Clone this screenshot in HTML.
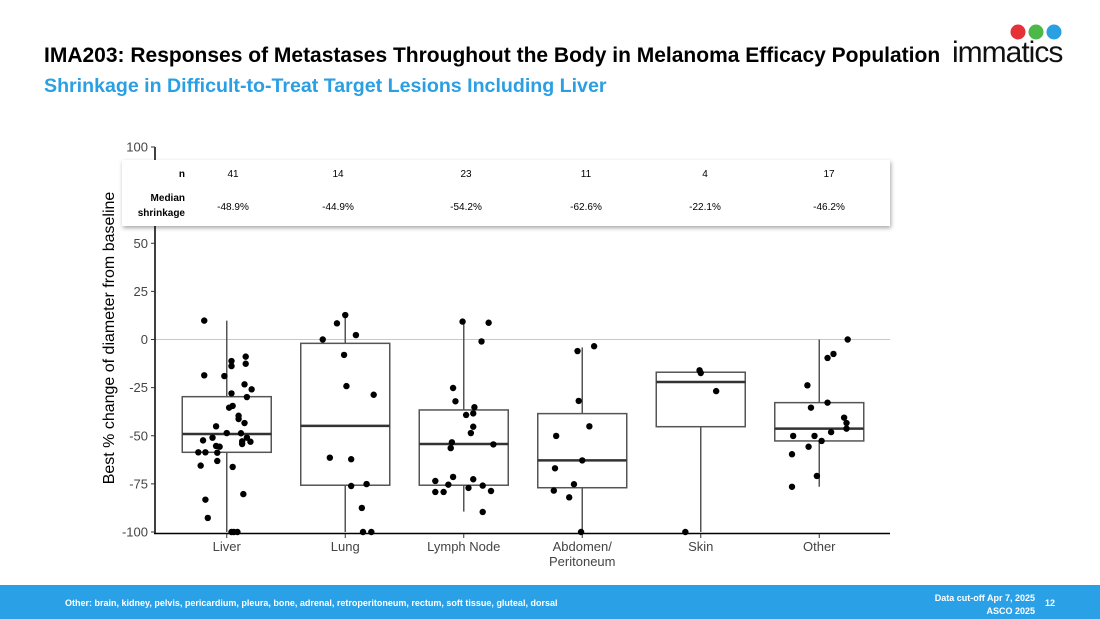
<!DOCTYPE html>
<html><head><meta charset="utf-8"><style>
body{margin:0;width:1100px;height:619px;overflow:hidden;background:#fff;font-family:"Liberation Sans",sans-serif;position:relative}
.t1{position:absolute;left:44px;top:44px;font-size:21px;font-weight:bold;color:#000;white-space:nowrap}
.t2{position:absolute;left:44px;top:75px;font-size:19.6px;font-weight:bold;color:#2a9fe3;white-space:nowrap}
.foot{position:absolute;left:0;top:585px;width:1100px;height:34px;background:#2aa1e6;color:#fff;font-size:9px;font-weight:bold}
</style></head><body>
<div class="t1">IMA203: Responses of Metastases Throughout the Body in Melanoma Efficacy Population</div>
<div class="t2">Shrinkage in Difficult-to-Treat Target Lesions Including Liver</div>
<div style="position:absolute;left:950px;top:15px;width:130px;height:55px">
<svg width="130" height="55"><circle cx="68" cy="17" r="7.5" fill="#e53238"/><circle cx="86" cy="17" r="7.5" fill="#4cb848"/><circle cx="104" cy="17" r="7.5" fill="#2a9fe3"/>
<text x="2" y="47" font-size="30" font-family="Liberation Sans" fill="#111" letter-spacing="-1">immatics</text></svg></div>
<svg id="chart" width="1100" height="619" style="position:absolute;left:0;top:0"></svg>
<div class="foot">
<span style="position:absolute;left:65px;top:13px">Other: brain, kidney, pelvis, pericardium, pleura, bone, adrenal, retroperitoneum, rectum, soft tissue, gluteal, dorsal</span>
<span style="position:absolute;right:65px;top:7px;text-align:right;line-height:13px">Data cut-off Apr 7, 2025<br>ASCO 2025</span>
<span style="position:absolute;left:1045px;top:13px">12</span>
</div>
<script>
const categories=["Liver","Lung","Lymph Node","Abdomen/\nPeritoneum","Skin","Other"];
const nCounts=["41","14","23","11","4","17"];
const medianLabels=["-48.9%","-44.9%","-54.2%","-62.6%","-22.1%","-46.2%"];
const q1=[-58.6,-75.7,-75.7,-77,-45.3,-52.7];
const medians=[-49.1,-44.9,-54.3,-62.8,-22.1,-46.3];
const q3=[-29.7,-2,-36.6,-38.5,-17,-32.8];
const whiskLo=[-100,-100,-89.4,-100,-100,-76.5];
const whiskHi=[9.8,12.7,9.3,-4.1,-17,0];
const yTicks=[100,50,25,0,-25,-50,-75,-100];
const pointCat=[
0,0,0,0,0,0,0,0,0,0,0,0,0,0,0,0,0,0,0,0,0,0,0,0,0,0,0,0,0,0,0,0,0,0,0,0,0,0,0,
1,1,1,1,1,1,1,1,1,1,1,1,1,1,
2,2,2,2,2,2,2,2,2,2,2,2,2,2,2,2,2,2,2,2,2,2,2,
3,3,3,3,3,3,3,3,3,3,3,
4,4,4,4,
5,5,5,5,5,5,5,5,5,5,5,5,5,5,5,5,5];
const pointVal=[
9.8,-11.2,-13.8,-8.9,-12.6,-18.6,-19,-23.3,-25.9,-28,-29.9,-34.5,-35.4,-39.6,-41.3,-43.4,-45.1,-48.6,-48.7,-51,-51,-52.4,-52.9,-53.1,-54.3,-55.3,-55.7,-58.6,-58.6,-58.8,-65.5,-63.1,-66.2,-80.3,-83.2,-92.7,-100,-100,-100,
12.7,8.4,2.3,0,-8,-24.2,-28.7,-61.4,-62.2,-76.1,-75.1,-87.5,-100,-100,
9.3,8.7,-1,-25.2,-32.1,-35.2,-38.4,-39.2,-45.3,-48.6,-53.4,-56.4,-54.5,-73.5,-71.4,-75.4,-72.6,-75.9,-77.1,-79.2,-79.2,-78.7,-89.6,
-6,-3.5,-31.9,-45.1,-50.1,-62.8,-66.9,-75.2,-78.5,-82,-100,
-16,-17.4,-26.8,-100,
0,-7.5,-9.6,-23.8,-32.8,-35.4,-40.6,-43.4,-46.3,-48.1,-50.1,-50.1,-52.7,-55.7,-59.6,-70.9,-76.5];
const pointJitter=[
-0.19,0.04,0.04,0.16,0.16,-0.19,-0.02,0.15,0.21,0.04,0.17,0.05,0.02,0.10,0.10,0.15,-0.09,0.00,0.12,-0.12,0.17,-0.20,0.13,0.20,0.13,-0.09,-0.06,-0.24,-0.18,-0.08,-0.22,-0.08,0.05,0.14,-0.18,-0.16,0.04,0.06,0.09,
0.00,-0.07,0.09,-0.19,-0.01,0.01,0.24,-0.13,0.05,0.05,0.18,0.14,0.15,0.22,
-0.01,0.21,0.15,-0.09,-0.07,0.09,0.08,0.02,0.08,0.06,-0.10,-0.11,0.25,-0.24,-0.09,-0.13,0.08,0.16,0.04,-0.24,-0.17,0.23,0.16,
-0.04,0.10,-0.03,0.06,-0.22,0.00,-0.23,-0.07,-0.24,-0.11,-0.01,
-0.01,0.00,0.13,-0.13,
0.24,0.12,0.07,-0.10,0.07,-0.07,0.21,0.23,0.23,0.10,-0.22,-0.04,0.02,-0.09,-0.23,-0.02,-0.23];

const svg=document.getElementById('chart');
const NS='http://www.w3.org/2000/svg';
const X0=167.5,BAND=118.5,BOXW=89;
function xScale(i){return X0+BAND*(i+0.5);}
function yScale(v){return 339.5-v*1.925;}
function mk(tag,attrs,parent){const e=document.createElementNS(NS,tag);for(const k in attrs)e.setAttribute(k,attrs[k]);(parent||svg).appendChild(e);return e;}
let zl=mk('line',{x1:155,x2:890,y1:yScale(0),y2:yScale(0),stroke:'#c8c8c8','stroke-width':1});


let ya=mk('line',{x1:155,x2:155,y1:yScale(100),y2:yScale(-100)+1,stroke:'#000','stroke-width':1.5});


let xa=mk('line',{x1:154,x2:890,y1:yScale(-100)+1.5,y2:yScale(-100)+1.5,stroke:'#000','stroke-width':1.5});


yTicks.forEach(t=>{
  mk('line',{x1:151,x2:155,y1:yScale(t),y2:yScale(t),stroke:'#333'});
  const tx=mk('text',{x:148,y:yScale(t)+4.5,'text-anchor':'end','font-size':13,fill:'#444'});
  tx.textContent=t;
  
  
});
categories.forEach((c,i)=>{
  const cx=xScale(i);
  mk('line',{x1:cx,x2:cx,y1:yScale(-100)+2,y2:yScale(-100)+6,stroke:'#333'});
  const g=mk('g',{});
  
  
  mk('line',{x1:cx,x2:cx,y1:yScale(whiskHi[i]),y2:yScale(q3[i]),stroke:'#555','stroke-width':1.5},g);
  mk('line',{x1:cx,x2:cx,y1:yScale(q1[i]),y2:yScale(whiskLo[i]),stroke:'#555','stroke-width':1.5},g);
  mk('rect',{x:cx-BOXW/2,y:yScale(q3[i]),width:BOXW,height:yScale(q1[i])-yScale(q3[i]),fill:'#fff',stroke:'#555','stroke-width':1.5},g);
  mk('line',{x1:cx-BOXW/2,x2:cx+BOXW/2,y1:yScale(medians[i]),y2:yScale(medians[i]),stroke:'#333','stroke-width':2.5},g);
  const lines=c.split('\n');
  lines.forEach((l,j)=>{
    const t=mk('text',{x:cx,y:551+j*15,'text-anchor':'middle','font-size':13,fill:'#444'});
    t.textContent=l;
    
    
  });
});
pointVal.forEach((v,k)=>{
  const p=mk('circle',{cx:xScale(pointCat[k])+pointJitter[k]*BAND,cy:yScale(v),r:3.2,fill:'#000'});
  
  
});
const defs=mk('defs',{});
const f=mk('filter',{id:'sh',x:'-5%',y:'-20%',width:'110%',height:'150%'},defs);
mk('feDropShadow',{dx:1,dy:2,stdDeviation:2,'flood-color':'#000','flood-opacity':0.35},f);
const tbl=mk('rect',{x:122,y:160,width:768,height:66,fill:'#fff',filter:'url(#sh)'});


const yt=mk('text',{transform:'translate(114,338) rotate(-90)','text-anchor':'middle','font-size':16,fill:'#000'});
yt.textContent='Best % change of diameter from baseline';


function txt(x,y,s,anchor,bold,name){const t=mk('text',{x:x,y:y,'text-anchor':anchor,'font-size':10,'font-weight':bold?'bold':'normal',fill:'#000'});t.textContent=s;return t;}
txt(185,177,'n','end',true,'n-row-label');
txt(185,201,'Median','end',true,'median-row-label');
txt(185,216,'shrinkage','end',true,'median-row-label');
nCounts.forEach((n,i)=>{
  const x=[233,338,466,586,705,829][i];
  txt(x,177,n,'middle',false,'n-count');
  txt(x,210,medianLabels[i],'middle',false,'median-shrinkage');
});
</script>
</body></html>
